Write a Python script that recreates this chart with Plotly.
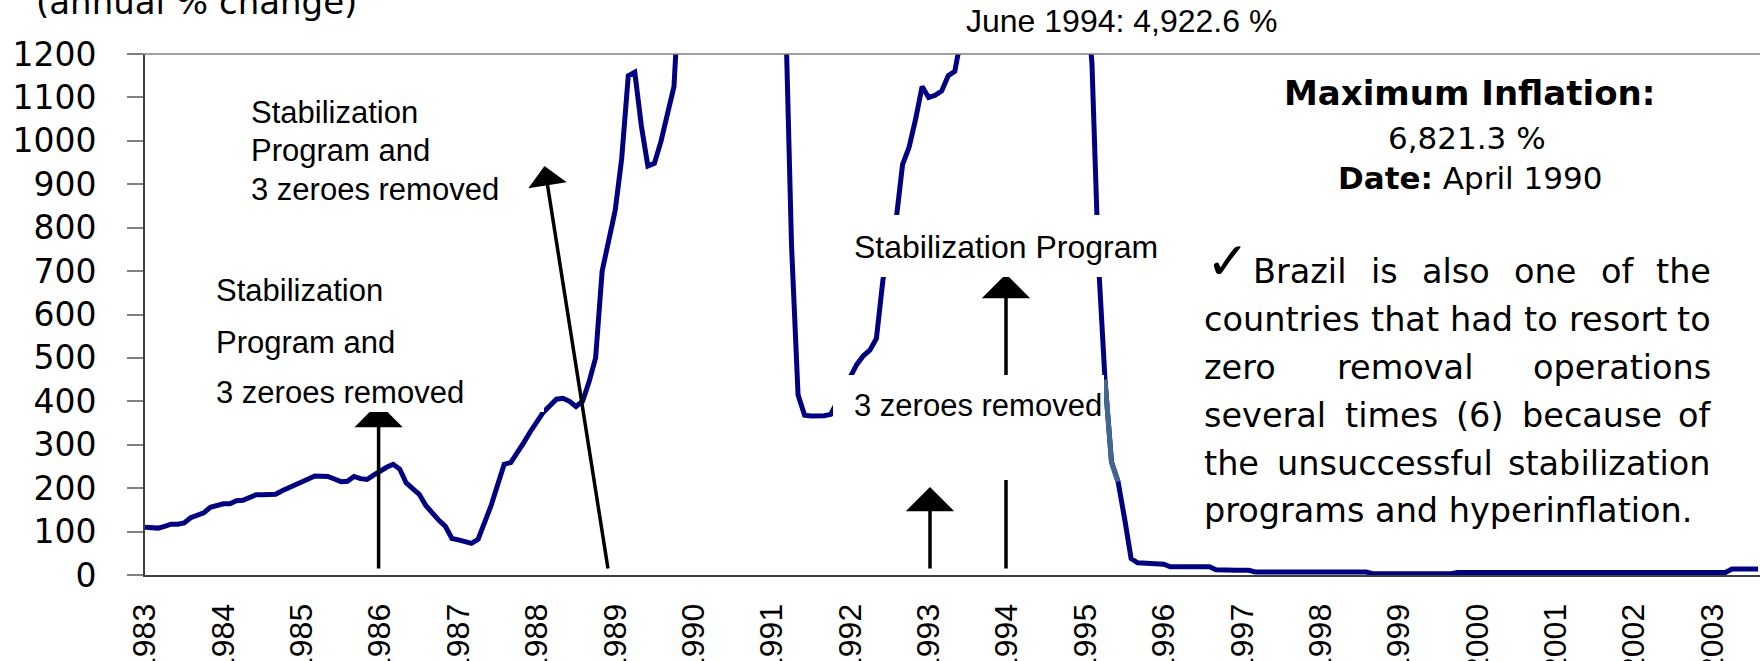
import plotly.graph_objects as go

# ---------------- data ----------------
years = list(range(1983, 2004))
months = [f"{y}-{m:02d}" for y in years for m in range(1, 13)][:248]
year_labels = [str(y) for y in years]
tick_months = [f"{y}-01" for y in years]

inflation = [
    110, 109, 108, 112, 117, 117, 120, 132, 139, 143, 156, 161,          # 1983
    164, 164, 171, 172, 180, 185, 185, 185, 186, 194, 200, 208,          # 1984
    214, 221, 228, 228, 227, 221, 215, 216, 227, 222, 220, 230,          # 1985
    240, 248, 255, 244, 212, 200, 186, 160, 141, 126, 112, 84,           # 1986
    81, 76, 73, 82, 120, 160, 208, 255, 259, 280, 305, 330,              # 1987
    355, 375, 390, 405, 407, 400, 388, 400, 445, 500, 700, 765,          # 1988
    840, 960, 1150, 1158, 1035, 942, 948, 998, 1058, 1125, 1400, 1765,   # 1989
    2500, 3600, 5000, 6821.3, 6100, 5000, 4000, 3200, 2600, 2200, 1900, 1700,  # 1990
    1600, 1500, 1350, 760, 415, 368, 366, 366, 367, 370, 400, 430,       # 1991
    457, 485, 505, 518, 545, 680, 750, 815, 945, 985, 1050, 1125,        # 1992
    1100, 1105, 1115, 1150, 1160, 1240, 1500, 1750, 1950, 2150, 2350, 2500,  # 1993
    2700, 3000, 3500, 4000, 4500, 4922.6, 4200, 3300, 2600, 2000, 1700, 1500,  # 1994
    1350, 1180, 720, 450, 260, 215, 130, 38, 28, 27, 27, 26,             # 1995
    25, 19, 19, 19, 19, 19, 19, 19, 12, 11, 11, 11,                      # 1996
    11, 11, 7, 7, 7, 7, 7, 7, 7, 7, 7, 7,                                # 1997
    7, 7, 7, 7, 7, 7, 7, 7, 3, 3, 3, 3,                                  # 1998
    3, 3, 3, 3, 3, 3, 3, 3, 3, 6, 6, 6,                                  # 1999
    6, 6, 6, 6, 6, 6, 6, 6, 6, 6, 6, 6,                                  # 2000
    6, 6, 6, 6, 6, 6, 6, 6, 6, 6, 6, 6,                                  # 2001
    6, 6, 6, 6, 6, 6, 6, 6, 6, 6, 6, 6,                                  # 2002
    6, 6, 6, 14, 14, 14, 14, 14,                                         # 2003
]

highlight_months = months[147:150]
highlight_values = inflation[147:150]

y_ticks = list(range(0, 1300, 100))

# ---------------- layout helpers ----------------
W, H = 1760, 661
ML, MR, MT, MB = 145, 0, 54, 86
PW, PH = W - ML - MR, H - MT - MB


def px(x):
    return (x - ML) / PW


def py(y):
    return (H - MB - y) / PH


ARIAL = "Liberation Sans, Arial, sans-serif"
WIDE = "DejaVu Sans, Verdana, sans-serif"

DJ = {' ': .318, 'a': .613, 'b': .635, 'c': .550, 'd': .635, 'e': .615, 'f': .352,
      'g': .635, 'h': .634, 'i': .278, 'l': .278, 'm': .974, 'n': .634, 'o': .612,
      'p': .635, 'r': .411, 's': .521, 't': .392, 'u': .634, 'v': .592, 'y': .592,
      'z': .525, 'B': .686, '(': .390, ')': .390, '6': .636, '.': .318}


def wwidth(word, size):
    return sum(DJ.get(c, .6) for c in word) * size


def text_ann(txt, x, ymid, size, family, xanchor="left"):
    return dict(text=txt, xref="paper", yref="paper", x=px(x), y=py(ymid),
                xanchor=xanchor, yanchor="middle", showarrow=False,
                font=dict(family=family, size=size, color="black"), borderpad=0)


def arrow(tip_x, tip_y, tail_x, tail_y, size):
    return dict(text="", xref="paper", yref="paper", x=px(tip_x), y=py(tip_y),
                ax=tail_x - tip_x, ay=tail_y - tip_y, showarrow=True,
                arrowhead=1, arrowwidth=3.5, arrowsize=size, arrowcolor="black")


def box(x0, y0, x1, y1):
    return dict(text=" ", xref="paper", yref="paper", x=px(x0), y=py(y0),
                xanchor="left", yanchor="top", width=x1 - x0, height=y1 - y0,
                bgcolor="white", showarrow=False, borderpad=0, borderwidth=0)


annotations = []
# arrows (drawn first so that white text boxes can cover them)
annotations.append(arrow(378.6, 403, 378.6, 570, 2.3))
annotations.append(arrow(544.5, 166, 608.2, 570, 1.85))
annotations.append(arrow(930, 487, 930, 570, 2.3))
annotations.append(arrow(1006, 274, 1006, 570, 2.3))

# white boxes
annotations.append(box(205, 268, 544, 412))
annotations.append(box(846, 215, 1160, 277))
annotations.append(box(832.7, 375, 1104, 480))

k = 0.3465
# upper-left label
for i, t in enumerate(["Stabilization", "Program and", "3 zeroes removed"]):
    annotations.append(text_ann(t, 250.4, 123.3 + 38.3 * i - k * 31, 31, ARIAL))
# lower-left label
for t, b in zip(["Stabilization", "Program and", "3 zeroes removed"], [301.7, 353.3, 403.3]):
    annotations.append(text_ann(t, 214.8, b - k * 31, 31, ARIAL))
annotations.append(text_ann("Stabilization Program", 852.7, 257.7 - k * 32, 32, ARIAL))
annotations.append(text_ann("3 zeroes removed", 852.7, 416.7 - k * 31, 31, ARIAL))
annotations.append(text_ann("June 1994: 4,922.6 %", 1121, 32 - k * 32, 32, ARIAL, "center"))

# title
annotations.append(text_ann("(annual % change)", 34.5, 13.3 - k * 34, 34, WIDE))

# maximum inflation block
annotations.append(text_ann("<b>Maximum Inflation:</b>", 1469, 105 - k * 34, 34, WIDE, "center"))
annotations.append(text_ann("6,821.3 %", 1467, 148.3 - k * 31, 31, WIDE, "center"))
annotations.append(text_ann("<b>Date:</b> April 1990", 1470, 188.3 - k * 31, 31, WIDE, "center"))

# paragraph with check mark (justified word by word)
FS = 33.5
LEFT, RIGHT = 1203, 1712
annotations.append(text_ann("\u2713", 1228, 261, 52, WIDE, "center"))
lines = [
    (["Brazil", "is", "also", "one", "of", "the"], 1251.5, RIGHT),
    (["countries", "that", "had", "to", "resort", "to"], LEFT, RIGHT),
    (["zero", "removal", "operations"], LEFT, RIGHT),
    (["several", "times", "(6)", "because", "of"], LEFT, RIGHT),
    (["the", "unsuccessful", "stabilization"], LEFT, RIGHT),
]
base0, step = 283.5, 47.8
for i, (words, left, right) in enumerate(lines):
    ymid = base0 + step * i - k * FS
    widths = [wwidth(w, FS) for w in words]
    gap = (right - left - sum(widths)) / (len(words) - 1)
    x = left
    for j, (w, ww) in enumerate(zip(words, widths)):
        if j == len(words) - 1:
            annotations.append(text_ann(w, right, ymid, FS, WIDE, "right"))
        else:
            annotations.append(text_ann(w, x, ymid, FS, WIDE))
        x += ww + gap
annotations.append(text_ann("programs and hyperinflation.", LEFT, base0 + step * 5 - k * FS, FS, WIDE))

# ---------------- figure ----------------
fig = go.Figure()
fig.add_trace(go.Scatter(x=months, y=inflation, mode="lines",
                         line=dict(color="#000080", width=5), hoverinfo="skip"))
fig.add_trace(go.Scatter(x=highlight_months, y=highlight_values, mode="lines",
                         line=dict(color="#41678f", width=5), hoverinfo="skip"))

fig.update_layout(
    width=W, height=H,
    margin=dict(l=ML, r=MR, t=MT, b=MB, autoexpand=False),
    plot_bgcolor="white", paper_bgcolor="white", showlegend=False,
    xaxis=dict(type="category", range=[0, 247.3], tickmode="array",
               tickvals=tick_months, ticktext=year_labels, tickangle=-90,
               showgrid=False, zeroline=False, showline=True, linecolor="#404040",
               linewidth=2, ticks="", ticklabelstandoff=14, automargin=False,
               tickfont=dict(family=ARIAL, size=32, color="black")),
    yaxis=dict(range=[0, 1200], tickmode="array", tickvals=y_ticks,
               showgrid=False, zeroline=False, showline=True, linecolor="#404040",
               linewidth=2, ticks="outside", ticklen=16, tickwidth=1.5,
               tickcolor="#808080", ticklabelstandoff=24, automargin=False,
               tickfont=dict(family=WIDE, size=33, color="black")),
    annotations=annotations,
    shapes=[dict(type="line", xref="paper", yref="paper", x0=px(128), x1=1,
                 y0=1, y1=1, line=dict(color="#808080", width=1.5))],
)

fig.write_html("out.html", config={"displayModeBar": False},
               post_script="document.body.style.margin='0';")
